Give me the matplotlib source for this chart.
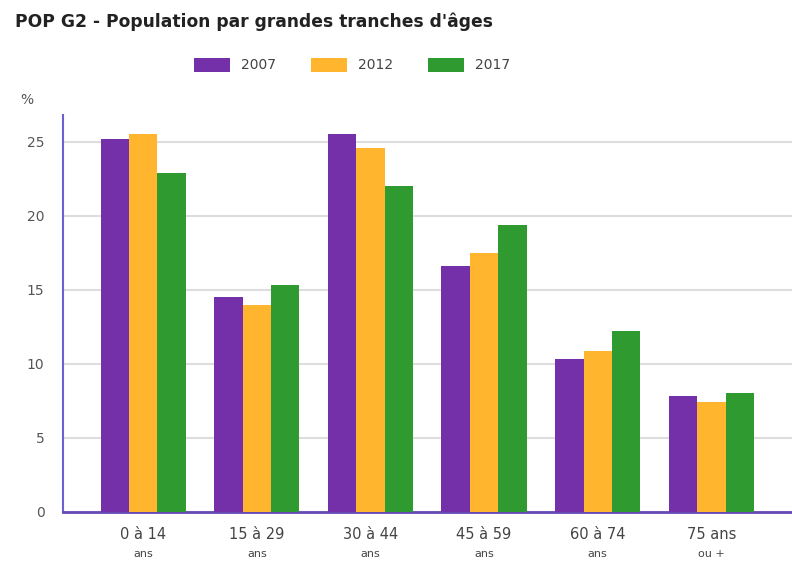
import matplotlib
matplotlib.use("Agg")
import matplotlib.pyplot as plt
import numpy as np
from matplotlib.transforms import blended_transform_factory

categories_line1 = ["0 à 14", "15 à 29", "30 à 44", "45 à 59", "60 à 74", "75 ans"]
categories_line2 = ["ans", "ans", "ans", "ans", "ans", "ou +"]
years = ["2007", "2012", "2017"]
values_2007 = [25.2, 14.5, 25.5, 16.6, 10.3, 7.8]
values_2012 = [25.5, 14.0, 24.6, 17.5, 10.9, 7.4]
values_2017 = [22.9, 15.3, 22.0, 19.4, 12.2, 8.0]
yticks = [0, 5, 10, 15, 20, 25]
colors = ["#7430a8", "#ffb52e", "#2f9a2f"]

fig = plt.figure(figsize=(7.92, 5.65), dpi=100)
ax = fig.add_axes([0.079, 0.094, 0.921, 0.702])

x = np.arange(len(categories_line1))
w = 0.25
for i, (vals, lab, c) in enumerate(zip([values_2007, values_2012, values_2017], years, colors)):
    ax.bar(x + (i - 1) * w, vals, width=w, color=c, label=lab, zorder=3)

ax.set_xlim(-0.71, 5.71)
ax.set_ylim(0, 26.8)
ax.set_yticks(yticks)
ax.set_yticklabels([str(t) for t in yticks], fontsize=10, color="#555555")
ax.yaxis.grid(True, color="#dddddd", linewidth=1.5, zorder=0)
ax.set_axisbelow(True)
ax.tick_params(axis="y", length=0, pad=13)
ax.tick_params(axis="x", length=0, pad=11)
ax.set_xticks(x)
ax.set_xticklabels(categories_line1, fontsize=10.5, color="#444444")
trans = blended_transform_factory(ax.transData, ax.transAxes)
for xi, l2 in zip(x, categories_line2):
    ax.text(xi, -0.107, l2, transform=trans, ha="center", va="center", fontsize=8, color="#444444")

for s in ["top", "right"]:
    ax.spines[s].set_visible(False)
ax.spines["left"].set_color("#6a60d0")
ax.spines["bottom"].set_color("#6648b8")
ax.spines["left"].set_linewidth(1.5)
ax.spines["bottom"].set_linewidth(2)

fig.text(15 / 792, 1 - 22 / 565, "POP G2 - Population par grandes tranches d'âges",
         fontsize=12.3, fontweight="bold", color="#222222", ha="left", va="center")
fig.text(20 / 792, 1 - 100 / 565, "%", fontsize=10, color="#555555", ha="left", va="center")

leg = ax.legend(loc="center", bbox_to_anchor=(352 / 792, 1 - 65 / 565), bbox_transform=fig.transFigure,
                ncol=3, frameon=False, fontsize=10, handlelength=2.6, handleheight=1.2,
                columnspacing=2.5, handletextpad=0.8)
for t in leg.get_texts():
    t.set_color("#444444")

fig.savefig("out.png", dpi=100, facecolor="white")
